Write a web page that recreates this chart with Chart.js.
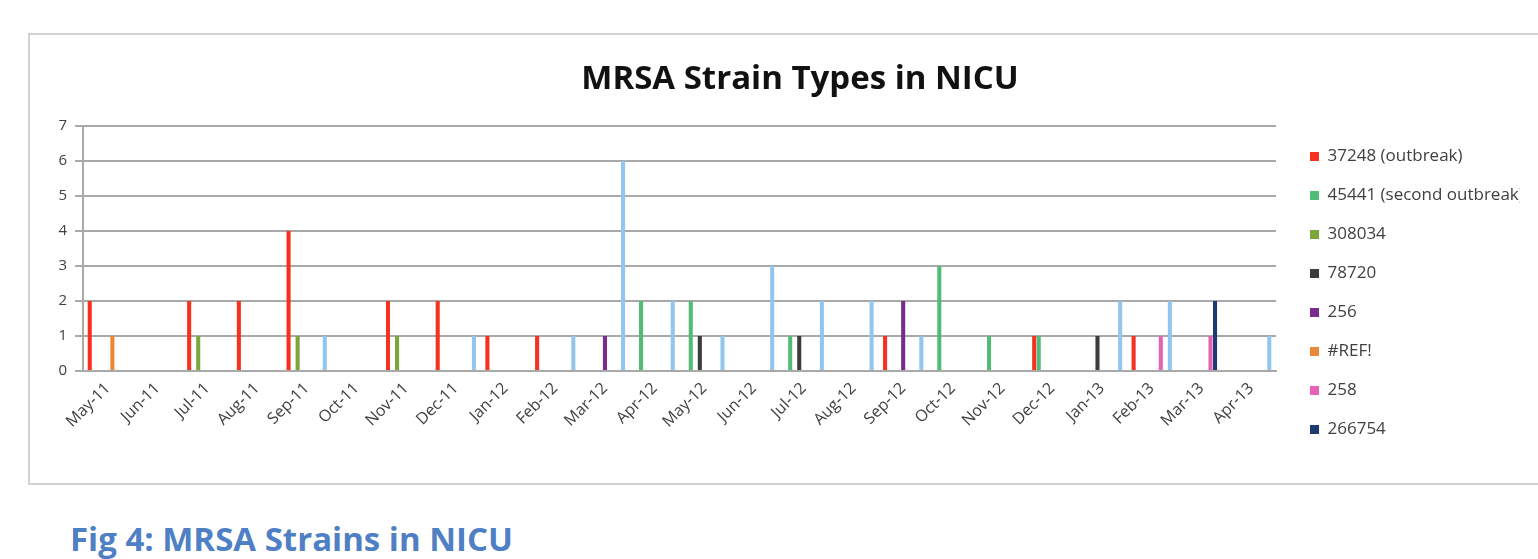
<!DOCTYPE html>
<html>
<head>
<meta charset="utf-8">
<script src="https://cdn.jsdelivr.net/npm/chart.js@4.4.1/dist/chart.umd.min.js"></script>
<style>
  html, body { margin: 0; padding: 0; background: #fff; overflow: hidden; }
  body { width: 1538px; height: 559px; position: relative; }
  #frame {
    position: absolute; left: 28px; top: 33px;
    width: 1600px; height: 448px;
    border: 2px solid #d2d2d2; overflow: hidden; background: #fff;
  }
  #wrap { position: absolute; left: 0; top: 0; width: 1600px; height: 448px; }
  #title {
    position: absolute; left: 500px; width: 600px; top: 57px;
    text-align: center; line-height: 40px;
    font-family: "Open Sans", sans-serif; font-weight: bold;
    font-size: 33px; color: #111; white-space: nowrap;
  }
  #caption {
    position: absolute; left: 70px; top: 516px;
    font-family: "Open Sans", sans-serif; font-weight: bold;
    font-size: 33px; color: #4f7fc4; white-space: nowrap;
  }
</style>
</head>
<body>
<div id="frame"><div id="wrap"><canvas id="strainChart"></canvas></div></div>
<div id="title">MRSA Strain Types in NICU</div>
<div id="caption">Fig 4: MRSA Strains in NICU</div>
<script>
// Months on the category axis
const months = ["May-11", "Jun-11", "Jul-11", "Aug-11", "Sep-11", "Oct-11",
  "Nov-11", "Dec-11", "Jan-12", "Feb-12", "Mar-12", "Apr-12",
  "May-12", "Jun-12", "Jul-12", "Aug-12", "Sep-12", "Oct-12",
  "Nov-12", "Dec-12", "Jan-13", "Feb-13", "Mar-13", "Apr-13"];

// Cases per month for each strain (null = none)
const s37248 = [2, null, 2, 2, 4, null, 2, 2, 1, 1, null, null,
  null, null, null, null, 1, null, null, 1, null, 1, null, null];
const s45441 = [null, null, null, null, null, null, null, null, null, null, null, 2,
  2, null, 1, null, null, 3, 1, 1, null, null, null, null];
const s308034 = [null, null, 1, null, 1, null, 1, null, null, null, null, null,
  null, null, null, null, null, null, null, null, null, null, null, null];
const s78720 = [null, null, null, null, null, null, null, null, null, null, null, null,
  1, null, 1, null, null, null, null, null, 1, null, null, null];
const s256 = [null, null, null, null, null, null, null, null, null, null, 1, null,
  null, null, null, null, 2, null, null, null, null, null, null, null];
const sRef = [1, null, null, null, null, null, null, null, null, null, null, null,
  null, null, null, null, null, null, null, null, null, null, null, null];
const s258 = [null, null, null, null, null, null, null, null, null, null, null, null,
  null, null, null, null, null, null, null, null, null, 1, 1, null];
const s266754 = [null, null, null, null, null, null, null, null, null, null, null, null,
  null, null, null, null, null, null, null, null, null, null, 2, null];
const sOther = [null, null, null, null, 1, null, null, 1, null, 1, 6, 2,
  1, 3, 2, 2, 1, null, null, null, 2, 2, null, 1];

const yTicks = [0, 1, 2, 3, 4, 5, 6, 7];

const gridGrey = "#a9a9a9";
const textGrey = "#404040";

function series(label, data, color, inLegend) {
  return {
    label: label,
    data: data,
    backgroundColor: color,
    borderWidth: 0,
    inLegend: inLegend,
    categoryPercentage: 0.82,
    barPercentage: 0.9
  };
}

const datasets = [
  series("37248 (outbreak)", s37248, "#f4321f", true),
  series("45441 (second outbreak)", s45441, "#52bb78", true),
  series("308034", s308034, "#7aa63a", true),
  series("78720", s78720, "#3c3c3c", true),
  series("256", s256, "#7b2a8e", true),
  series("#REF!", sRef, "#e8893a", true),
  series("258", s258, "#e463b4", true),
  series("266754", s266754, "#1f3a72", true),
  series("Other", sOther, "#93c6ee", false)
];

new Chart(document.getElementById("strainChart"), {
  type: "bar",
  data: { labels: months, datasets: datasets },
  options: {
    responsive: true,
    maintainAspectRatio: false,
    animation: false,
    layout: { padding: { left: 22, right: 110, top: 91, bottom: 0 } },
    plugins: {
      title: { display: false },
      legend: {
        position: "right",
        align: "start",
        maxWidth: 232,
        labels: {
          color: textGrey,
          font: { family: "Open Sans", size: 17 },
          boxWidth: 9,
          boxHeight: 9,
          padding: 22,
          filter: (item, chart) => chart.datasets[item.datasetIndex].inLegend
        }
      },
      tooltip: { enabled: false }
    },
    scales: {
      x: {
        grid: { display: false },
        border: { display: true, color: gridGrey, width: 2 },
        afterFit: axis => { axis.height = 112; },
        ticks: {
          color: textGrey,
          font: { family: "Open Sans", size: 16 },
          minRotation: 45,
          maxRotation: 45,
          autoSkip: false,
          padding: 0
        }
      },
      y: {
        min: 0,
        max: 7,
        afterBuildTicks: axis => { axis.ticks = yTicks.map(v => ({ value: v })); },
        afterFit: axis => { axis.width = 31; },
        grid: { color: gridGrey, lineWidth: 2, tickLength: 8, drawTicks: true },
        border: { display: true, color: gridGrey, width: 2 },
        ticks: {
          color: textGrey,
          font: { family: "Open Sans", size: 15 },
          padding: 8
        }
      },
      gap: {
        position: "right",
        display: true,
        grid: { display: false },
        border: { display: false },
        ticks: { display: false },
        afterFit: axis => { axis.width = 12; }
      }
    }
  }
});
</script>
</body>
</html>
